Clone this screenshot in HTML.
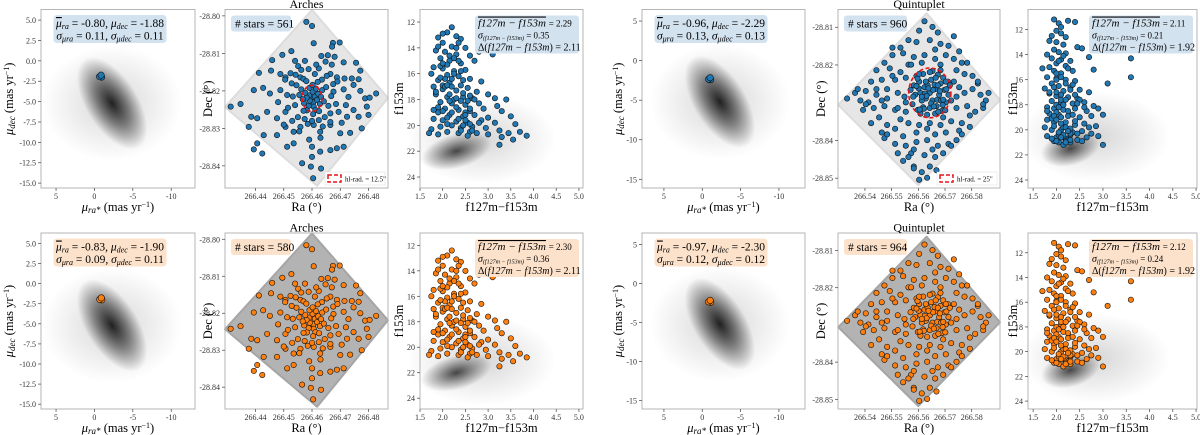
<!DOCTYPE html>
<html><head><meta charset="utf-8">
<style>
html,body{margin:0;padding:0;background:#fff;}
svg{display:block;font-family:"Liberation Serif",serif;}
</style></head>
<body>
<svg id="fig" width="1200" height="435" viewBox="0 0 1200 435" xmlns="http://www.w3.org/2000/svg">
<defs>
<radialGradient id="pmg"><stop offset="0" stop-color="#000" stop-opacity="0.85"/><stop offset="0.5" stop-color="#000" stop-opacity="0.45"/><stop offset="1" stop-color="#000" stop-opacity="0"/></radialGradient>
<radialGradient id="halo"><stop offset="0" stop-color="#000" stop-opacity="0.16"/><stop offset="1" stop-color="#000" stop-opacity="0"/></radialGradient>
<radialGradient id="cmdg"><stop offset="0" stop-color="#000" stop-opacity="0.7"/><stop offset="0.55" stop-color="#000" stop-opacity="0.3"/><stop offset="1" stop-color="#000" stop-opacity="0"/></radialGradient>
</defs>
</svg>
<script>
// ---------- data ----------
const rowStatsPM1 = [["-0.80","-1.88","0.11","0.11"],["-0.83","-1.90","0.09","0.11"]];
const rowStatsPM4 = [["-0.96","-2.29","0.13","0.13"],["-0.97","-2.30","0.12","0.12"]];
const pmMeanArches = [[-0.80,-1.88],[-0.83,-1.90]];
const pmMeanQuint = [[-0.96,-2.29],[-0.97,-2.30]];
const starCountArches = [561,580];
const starCountQuint = [960,964];
const cmdStatsArches = [["2.29","0.35","2.11"],["2.30","0.36","2.11"]];
const cmdStatsQuint = [["2.11","0.21","1.92"],["2.12","0.24","1.92"]];
const pmTicksX = [5,0,-5,-10];
const pmTicksY1 = [5,2.5,0,-2.5,-5,-7.5,-10,-12.5,-15];
const pmTicksY4 = [5,0,-5,-10,-15];
const archesRaTicks = [266.44,266.45,266.46,266.47,266.48];
const archesDecTicks = [-28.80,-28.81,-28.82,-28.83,-28.84];
const quintRaTicks = [266.54,266.55,266.56,266.57,266.58];
const quintDecTicks = [-28.81,-28.82,-28.84,-28.85];
const cmdTicksX = [1.5,2.0,2.5,3.0,3.5,4.0,4.5,5.0];
const cmdTicksY = [12,14,16,18,20,22,24];
const archesCenter = [266.460,-28.822];
const quintCenter = [266.5643,-28.8274];
const archesField = [[266.4600,-28.7984],[266.4869,-28.8219],[266.4618,-28.8453],[266.4292,-28.8243]];
const quintField = [[266.5631,-28.8063],[266.5906,-28.8293],[266.5600,-28.8518],[266.5300,-28.8306]];
// Arches sky offsets (milli-degrees)
const archesDRa = [-2.0,0,0.6,7.4,9.8,7.1,15.6,11.2,8.0,5.6,3.3,-7.3,-10.5,-14.1,-4.9,-3.8,-1.2,2.4,-18.8,-14.5,-11.2,-9.4,-7.6,-4.1,6.5,8.8,11.5,14.1,16.5,17.1,14.7,-20.6,-17.3,-14.9,-11.2,-8.8,7.6,11.2,12.9,17.1,18.8,20.4,22.7,-28.8,-25.3,-21.5,-22.4,-19.4,-15.9,-12.4,-9.4,6.5,9.4,12.4,14.7,16.5,19.4,20.0,17.6,13.5,10.0,6.5,2.9,0.6,-4.1,-6.5,-9.4,-12.4,-17.1,-19.4,-20.6,-17.6,-8.8,-6.5,0,2.9,6.5,8.8,11.2,-3.5,0,-0.4,3.2,0.4,
0,1,-1,0.5,-0.8,1.8,-1.9,2.2,-2.4,0.2,0.6,-1.2,2.8,-2.8,1.4,-0.9,3.2,-3.3,1.2,-1.8,3.6,-3.8,2.5,-3.0,4.2,-4.5,0.2,0.4,
5,-5.5,5.8,-6,3.5,-3,2.4,-2.6,6.8,-6.8,4.5,-5,7.5,-7.2,1,-1.5,5.2,-5.8,6.5,-7,8.5,-8.5,3.8,-4.5,1.5,-2.5,4.8,9,-9.5,10.5,-10,3,-1,-6,7,-12,12,-2,2,0];
const archesDDec = [20.4,19.3,14.7,14.8,14.9,13.8,9.5,9.6,11.1,11.5,11.3,12.6,11.6,10.2,8.6,7.6,7.8,8.0,6.8,7.4,6.5,5.6,6.7,5.6,6.5,5.6,5.3,5.3,5.1,7.4,3.6,2.2,2.8,1.3,2.2,0.9,1.8,2.4,0.4,2.0,0,0.2,1.3,-2.2,-1.5,-4.9,-7.6,-5.3,-3.6,-5.3,-3.6,-4.0,-3.6,-4.9,-3.1,-4.9,-2.2,-4.4,-8.0,-9.2,-9.3,-7.1,-8.9,-7.1,-7.6,-8.9,-7.6,-9.8,-9.8,-12.0,-13.6,-14.7,-12.9,-12.0,-12.9,-14.2,-13.8,-13.3,-12.9,-17.3,-15.6,-18.2,-18.7,-21.3,
0,0.5,0.8,-1,-0.6,-0.4,0.2,1.2,1.5,1.8,-2.2,-2.0,-1.5,-1.3,2.6,2.8,0.4,-0.2,-3.1,-3.2,2.2,2.4,-3.4,-3.3,-0.8,0.9,3.6,-4.2,
3,3.5,-2,-1.8,5,5.2,-5.8,-5.5,0.6,0.5,-5,-5,3.8,4,6.5,-6.8,6,6.3,-6.3,-6,-1.5,-2.5,-7.5,-8.8,9,10,9.8,4.5,5,-6.5,-7,-10.5,-11,10,9,-1,-1.8,4.6,4.4,-6];
// Quintuplet sky offsets (milli-degrees)
const quintDRa = [0,2,-2,1,-1.5,3.5,-3.5,4,-4,0.5,0,2.5,-2.5,5.5,-5.5,6,-6,3,-2.5,1,-1,4.5,-4.5,6.8,-6.5,7,-7.2,1.8,-0.8,2.8,-3,5,-5,3.8,-1.8,0.5,4.2,-4.2,2,-3.5,
-2,1,-4,3,-8,-5,0,4,7,-11,2,-14,-10,-6,-2,2,6,9,12,-17,-8,-20,-15,-11,10,13,16,-13,9,11,-18,-22,-9,-28,-24,-20,-16,-12,-9.5,10,13,16,19,22,-31,18,-26,-25,-21,-17,-13,-9,10,14,17,20,-19,-11,-22,-16,-13,-8,-4,0,4,8,12,15,-5,2,6,-10,-17,-13,-9,-5,-1,3,7,10,-7,-2,2,5,-10,-6,-3,0,-4,-1,2.5,
-7,-3,-9,5,8,-14,-16,-6,4,11,-1,1,-23,-18,6,-12,
1.2,-1.2,3,-3,5,-5,2.2,-2.2,6.2,-6.2,0,4.8,-4.6,1.5,-1.5,3.2,7.5,-0.5,5.8,-3.8,14,18,21,8,12,-14,-18,-24,-8,-4,4,-12,-20,9,15,-16,-27,-6,11,20];
const quintDDec = [0,1,1.5,-2,-1.5,-0.5,0,2.5,3,3.5,-4,-3.5,-3.8,0.8,-0.5,-2.5,2,4.8,5,5.8,-5.8,-4.8,-4.5,3,-3,-0.5,0.8,2.2,2,-1.8,-2,4,4.5,0.5,-0.2,-2.8,-2,1.2,-5.5,-5.5,
19,17.5,16.5,16,14,13.5,14,13,12.5,12,11.5,10,10.5,9.5,10,9,10,9,8,8,7.5,6,6.5,5.5,6,5,4.5,3.5,3,1.5,3.5,3,4,0,0.5,-0.5,1,0,-1,-1,0,1,-0.5,0,-1.5,2.5,-2,-4.5,-4,-3.5,-4.5,-5,-4,-3.5,-5,-4,-6.5,-7,-8,-8.5,-9.5,-8,-8.5,-8,-8.5,-7.5,-8,-9,-10.5,-11,-10.5,-11.5,-12,-13.5,-14,-13,-12.5,-14,-13.5,-12.5,-16,-16.5,-17,-16,-18,-19.5,-21,-19.5,-23,-22.5,-20.5,
7.5,8,-2.5,-6.5,-2,4.5,-1.5,-15,7.5,-10,-9.5,-15,-2.5,-10.5,3,-4,
0.8,-0.8,2,-1,-1.8,1.8,4,-4.2,1,-1,5.5,-3.2,3.8,-3.6,3,-5,2,1.2,-4.6,-4.4,8,3,-2,-14,-11,12,-2,-3,-17,5,6,-16,1,15,-6,-11,1,-20,11,-3];
// Arches CMD (colour, magnitude)
const archesCol = [2.2,2.1,2.0,2.3,1.9,2.4,2.0,2.2,2.5,1.85,2.05,2.3,2.6,2.8,3.1,2.9,1.95,2.15,2.4,2.7,1.8,2.0,2.25,2.5,2.1,2.35,1.75,2.6,2.85,1.9,2.15,2.4,1.8,2.0,2.3,2.55,2.75,3.0,1.85,2.1,2.45,2.65,3.15,3.4,1.95,2.2,2.5,2.8,3.2,2.05,2.35,2.6,2.9,3.3,1.9,2.15,2.45,2.7,3.0,3.5,1.8,2.0,2.3,2.55,2.85,3.15,3.6,1.75,1.95,2.2,2.4,2.65,2.95,3.25,3.45,3.7,3.85,1.7,1.9,2.1,2.35,2.6,3.0,3.3,3.55,3.25,2.1,2.3,2.0,2.25,2.5,2.1,2.75,2.45,
1.95,2.05,2.15,2.25,2.35,2.45,2.55,1.9,2.0,2.1,2.2,2.3,2.4,2.5,2.6,1.85,1.95,2.05,2.15,2.25,2.35,2.45,2.55,2.65,2.0,2.1,2.2,2.3,2.4,2.5,2.6,2.7,1.9,2.2,2.4,2.6,2.8,1.8,2.35,2.15];
const archesMag = [12.4,12.8,12.9,13.1,13.2,13.3,13.6,13.9,14.0,14.2,14.3,14.5,14.6,14.3,14.5,14.1,14.8,15.0,15.2,15.0,15.5,15.6,15.8,15.7,16.1,16.2,16.0,16.4,16.6,16.5,16.7,16.9,17.0,17.2,17.3,17.1,17.4,17.6,17.6,17.8,17.8,17.9,17.9,18.0,18.2,18.3,18.4,18.3,18.5,18.7,18.8,18.9,18.7,18.9,19.0,19.2,19.3,19.2,19.4,19.3,19.5,19.6,19.7,19.8,19.6,19.8,19.9,20.3,20.1,20.0,20.2,20.1,20.2,20.4,20.6,20.5,20.8,20.6,20.7,20.5,20.6,20.5,20.7,20.9,21.1,21.5,15.3,14.0,16.9,18.0,19.0,19.9,20.6,17.5,
15.4,16.4,17.6,16.0,15.0,16.5,18.1,18.6,18.9,19.4,19.0,18.6,20.4,19.6,17.7,17.4,16.3,17.0,14.6,14.8,19.5,20.0,20.8,20.4,15.2,16.9,17.0,17.9,18.1,19.2,19.9,18.0,13.9,16.4,15.8,18.7,19.8,18.8,13.6,18.1];
// Quintuplet CMD
const quintCol = [1.95,2.05,2.1,2.25,2.4,2.0,2.1,1.9,2.2,1.85,2.0,2.15,2.45,2.55,1.95,2.05,2.2,1.8,1.9,2.1,2.3,2.7,2.0,2.2,1.85,1.7,1.95,2.1,2.35,2.8,1.8,2.0,2.2,2.4,1.9,2.05,2.3,1.75,2.15,2.5,2.7,1.85,2.0,2.25,2.45,1.9,2.1,2.35,2.6,2.8,1.8,1.95,2.15,2.4,2.65,2.9,1.85,2.05,2.25,2.5,2.75,1.8,1.95,2.2,2.4,2.6,2.85,1.75,1.9,2.1,2.35,2.55,2.75,1.8,2.0,2.2,2.45,2.65,2.9,2.05,2.3,3.0,3.6,3.6,3.1,3.0,3.1,2.0,2.1,2.0,2.3,2.15,1.95,2.05,2.15,2.25,1.9,2.0,2.1,2.2,2.3,
2.0,2.1,2.2,2.05,2.15,2.25,1.95,2.35,2.0,2.1,2.2,2.3,2.4,2.05,2.15,2.25,1.9,2.0,2.1,2.2,2.3,2.45,2.55,2.0,2.1,2.2,2.3,2.4,2.5,1.85,1.95,2.05,2.15,2.25,2.35,2.45,2.6,2.7,1.8,1.95];
const quintMag = [11.2,11.5,11.8,11.3,11.4,12.1,12.3,12.5,12.6,12.9,13.0,13.2,13.4,13.5,13.6,13.8,13.9,14.0,14.3,14.4,14.5,14.2,14.7,14.9,15.0,15.1,15.3,15.5,15.3,15.2,15.8,15.9,16.0,16.1,16.3,16.5,16.6,16.7,16.9,16.8,17.0,17.1,17.3,17.4,17.5,17.7,17.8,17.9,17.8,18.1,18.2,18.3,18.4,18.3,18.5,18.3,18.7,18.8,18.9,19.0,18.9,19.2,19.4,19.4,19.6,19.5,19.7,19.8,20.0,20.0,20.2,20.1,20.3,20.5,20.6,20.7,20.8,20.6,20.5,21.0,21.0,21.2,14.3,15.8,16.3,18.8,12.0,18.0,19.0,16.0,20.4,21.2,20.9,20.4,19.8,20.8,19.1,18.6,17.6,20.9,20.3,
17.0,17.2,17.6,18.2,18.0,18.5,18.9,18.8,19.2,19.5,19.8,19.9,19.3,20.2,20.4,20.1,20.7,20.9,20.6,21.0,20.8,20.3,20.9,15.5,15.8,16.3,16.8,17.2,17.6,17.0,16.6,14.5,14.1,15.1,16.4,17.9,18.2,19.8,18.5,19.7];

// ---------- helpers ----------
const NS = "http://www.w3.org/2000/svg";
const svg = document.getElementById('fig');
function mk(tag, attrs, parent){
  const e = document.createElementNS(NS, tag);
  for (const k in attrs) e.setAttribute(k, attrs[k]);
  (parent||svg).appendChild(e);
  return e;
}
function lin(d0,d1,r0,r1){ return v => r0 + (v-d0)/(d1-d0)*(r1-r0); }
const rowTop = [9.5,233], rowBot = [188,409];
const colors = ['#1f77b4','#ff7f0e'];
const boxFill = ['#d3e2ef','#fde2cb'];

function frame(g, x0, x1, y0, y1, name){
  const r = mk('rect',{x:x0,y:y0,width:x1-x0,height:y1-y0,fill:'none',stroke:'#b5b5b5','stroke-width':1},g);
  
  
}
function xticks(g, ticks, sx, y1, fmt, name){
  ticks.forEach(t=>{
    const x = sx(t);
    const l = mk('line',{x1:x,x2:x,y1:y1,y2:y1+3,stroke:'#444','stroke-width':0.7},g);
    
    
    const tx = mk('text',{x:x,y:y1+11,'font-size':8,'text-anchor':'middle',fill:'#333'},g);
    tx.textContent = fmt(t);
    
    
  });
}
function yticks(g, ticks, sy, x0, fmt, name){
  ticks.forEach(t=>{
    const y = sy(t);
    const l = mk('line',{x1:x0-3,x2:x0,y1:y,y2:y,stroke:'#444','stroke-width':0.7},g);
    
    
    const tx = mk('text',{x:x0-5,y:y+3,'font-size':8,'text-anchor':'end',fill:'#333'},g);
    tx.textContent = fmt(t);
    
    
  });
}
const mfmt = v => (v<0?'-':'') + Math.abs(v);
function dot(g, x, y, col, r, name){
  const c = mk('circle',{cx:x,cy:y,r:r||2.7,fill:col,stroke:'#111','stroke-width':0.6},g);
  
  
}
function textEl(g, attrs, html, name){
  const t = mk('text', attrs, g);
  t.innerHTML = html;
  
  
  return t;
}

// ---------- panels ----------
function pmPanel(r, x0, x1, xdom, ydom, yt, yfmt, stats, mean, ylabX, nm){
  const y0=rowTop[r], y1=rowBot[r];
  const g = mk('g',{});
  
  
  const sx = lin(xdom[0],xdom[1],x0,x1), sy = lin(ydom[1],ydom[0],y0,y1);
  const cx = sx(-2.3), cy = sy(-5.2);
  const h = mk('ellipse',{cx:cx,cy:cy,rx:70,ry:58,fill:'url(#halo)'},g);
  
  
  const e = mk('ellipse',{cx:cx,cy:cy,rx:52,ry:26,fill:'url(#pmg)',transform:`rotate(58 ${cx} ${cy})`},g);
  
  
  frame(g,x0,x1,y0,y1,'axes-frame');
  xticks(g,pmTicksX,sx,y1,mfmt,'x-axis');
  yticks(g,yt,sy,x0,yfmt,'y-axis');
  const mx = sx(mean[0]), my = sy(mean[1]);
  [[0,0],[1,1],[-1,0.5],[0.5,-1]].forEach(o=>dot(g,mx+o[0],my+o[1],colors[r],3.2,'cluster-member'));
  const bx = x0+13, bw = 112;
  const b = mk('rect',{x:bx,y:y0+6,width:bw,height:27,rx:3,fill:boxFill[r],stroke:boxFill[r]},g);
  
  
  textEl(g,{x:bx+bw/2,y:y0+17.5,'font-size':11.5,'text-anchor':'middle'},
    `<tspan font-style="italic" text-decoration="overline">μ</tspan><tspan font-style="italic" font-size="8" dy="2">ra</tspan><tspan dy="-2"> = ${stats[0]}, </tspan><tspan font-style="italic">μ</tspan><tspan font-style="italic" font-size="8" dy="2">dec</tspan><tspan dy="-2"> = ${stats[1]}</tspan>`,'stats-mean');
  textEl(g,{x:bx+bw/2,y:y0+30,'font-size':11.5,'text-anchor':'middle'},
    `<tspan font-style="italic">σ</tspan><tspan font-style="italic" font-size="8" dy="2">μra</tspan><tspan dy="-2"> = ${stats[2]}, </tspan><tspan font-style="italic">σ</tspan><tspan font-style="italic" font-size="8" dy="2">μdec</tspan><tspan dy="-2"> = ${stats[3]}</tspan>`,'stats-sigma');
  const yc=(y0+y1)/2;
  textEl(g,{x:ylabX,y:yc,'font-size':12.5,'text-anchor':'middle',transform:`rotate(-90 ${ylabX} ${yc})`},
    `<tspan font-style="italic">μ</tspan><tspan font-style="italic" font-size="9" dy="2">dec</tspan><tspan dy="-2"> (mas yr</tspan><tspan font-size="8" dy="-4">−1</tspan><tspan dy="4">)</tspan>`,'y-axis-title');
  textEl(g,{x:(x0+x1)/2,y:y1+23,'font-size':12.5,'text-anchor':'middle'},
    `<tspan font-style="italic">μ</tspan><tspan font-style="italic" font-size="9" dy="2">ra*</tspan><tspan dy="-2"> (mas yr</tspan><tspan font-size="8" dy="-4">−1</tspan><tspan dy="4">)</tspan>`,'x-axis-title');
}

function skyPanel(r, x0, x1, xdom, ydom, rat, dect, field, center, dra, ddec, count, title, ylabX, ell, hlText, nm){
  const y0=rowTop[r], y1=rowBot[r];
  const g = mk('g',{});
  
  
  const sx = lin(xdom[0],xdom[1],x0,x1), sy = lin(ydom[1],ydom[0],y0,y1);
  const pts = field.map(p=>sx(p[0])+','+sy(p[1])).join(' ');
  const poly = mk('polygon',{points:pts,fill:r?'#b3b3b3':'#e6e6e6',stroke:r?'#a5a5a5':'#dcdcdc','stroke-width':2,'stroke-linejoin':'round'},g);
  
  
  frame(g,x0,x1,y0,y1,'axes-frame');
  xticks(g,rat,sx,y1,v=>v.toFixed(2),'x-axis');
  yticks(g,dect,sy,x0,v=>v.toFixed(2),'y-axis');
  for(let i=0;i<dra.length;i++){
    dot(g, sx(center[0]+dra[i]/1000), sy(center[1]+ddec[i]/1000), colors[r], 2.7, 'cluster-star');
  }
  if(r===0){
    const ex=sx(center[0]), ey=sy(center[1]);
    const e = mk('ellipse',{cx:ex,cy:ey,rx:sx(center[0]+ell[0]/1000)-ex,ry:ey-sy(center[1]+ell[1]/1000),fill:'none',stroke:'#e8141a','stroke-width':1.6,'stroke-dasharray':'4 2.5'},g);
    
    
    const lb = mk('rect',{x:x1-63,y:y1-16,width:60,height:13,fill:'#fff',stroke:'#ddd','stroke-width':0.5},g);
    
    
    const lm = mk('rect',{x:x1-60,y:y1-13,width:13,height:7,fill:'none',stroke:'#e8141a','stroke-width':1.5,'stroke-dasharray':'4 2'},g);
    
    
    textEl(g,{x:x1-43,y:y1-6.5,'font-size':7},hlText,'legend-entry');
  }
  const b = mk('rect',{x:x0+6,y:y0+6,width:count>=900?63:60,height:16,rx:3,fill:boxFill[r]},g);
  
  
  textEl(g,{x:x0+10,y:y0+18,'font-size':11.5},`# stars = ${count}`,'star-count');
  textEl(g,{x:(x0+x1)/2,y:y0-1.5,'font-size':12,'text-anchor':'middle'},title,'panel-title');
  const yc=(y0+y1)/2;
  textEl(g,{x:ylabX,y:yc,'font-size':12.5,'text-anchor':'middle',transform:`rotate(-90 ${ylabX} ${yc})`},'Dec (°)','y-axis-title');
  textEl(g,{x:(x0+x1)/2,y:y1+23,'font-size':12.5,'text-anchor':'middle'},'Ra (°)','x-axis-title');
}

function cmdPanel(r, x0, x1, xdom, ydom, col, mag, stats, blob, ylabX, nm){
  const y0=rowTop[r], y1=rowBot[r];
  const g = mk('g',{});
  
  
  const sx = lin(xdom[0],xdom[1],x0,x1), sy = lin(ydom[0],ydom[1],y0,y1);
  const bx = sx(blob[0]), by = sy(blob[1]);
  const h = mk('ellipse',{cx:bx+25,cy:by-12,rx:75,ry:45,fill:'url(#halo)'},g);
  
  
  const e = mk('ellipse',{cx:bx,cy:by,rx:blob[2],ry:17,fill:'url(#cmdg)',transform:`rotate(-15 ${bx} ${by})`},g);
  
  
  frame(g,x0,x1,y0,y1,'axes-frame');
  xticks(g,cmdTicksX,sx,y1,v=>v.toFixed(1),'x-axis');
  yticks(g,cmdTicksY,sy,x0,v=>String(v),'y-axis');
  for(let i=0;i<col.length;i++) dot(g, sx(col[i]), sy(mag[i]), colors[r], 2.7, 'cluster-star');
  const bxx = x1-108;
  const b = mk('rect',{x:bxx,y:y0+6,width:104,height:38,rx:3,fill:boxFill[r]},g);
  
  
  textEl(g,{x:bxx+3,y:y0+17,'font-size':11},`<tspan font-style="italic" text-decoration="overline">f127m − f153m</tspan> <tspan font-size="9">= ${stats[0]}</tspan>`,'stats-mean');
  textEl(g,{x:bxx+3,y:y0+29,'font-size':9},`<tspan font-style="italic" font-size="10">σ</tspan><tspan font-style="italic" font-size="6" dy="1.5">(f127m − f153m)</tspan><tspan dy="-1.5"> = ${stats[1]}</tspan>`,'stats-sigma');
  textEl(g,{x:bxx+3,y:y0+41,'font-size':10},`Δ(<tspan font-style="italic">f127m − f153m</tspan>) = ${stats[2]}`,'stats-delta');
  const yc=(y0+y1)/2;
  textEl(g,{x:ylabX,y:yc,'font-size':12.5,'text-anchor':'middle',transform:`rotate(-90 ${ylabX} ${yc})`},'f153m','y-axis-title');
  textEl(g,{x:(x0+x1)/2,y:y1+23,'font-size':12.5,'text-anchor':'middle'},'f127m−f153m','x-axis-title');
}

for(let r=0;r<2;r++){
  pmPanel(r,41,195,[6.96,-13.1],[-15.6,6.3],pmTicksY1,v=>v.toFixed(1),rowStatsPM1[r],pmMeanArches[r],13,'arches-proper-motion-'+r);
  skyPanel(r,225,388,[266.4292,266.4869],[-28.8459,-28.7983],archesRaTicks,archesDecTicks,archesField,archesCenter,archesDRa,archesDDec,starCountArches[r],'Arches',212,[3.5,3.5],'hl-rad. = 12.5"','arches-sky-'+r);
  cmdPanel(r,420,583,[1.5,5.09],[11.03,24.85],archesCol,archesMag,cmdStatsArches[r],[2.3,22.0,36],403,'arches-cmd-'+r);
  pmPanel(r,642,805,[7.86,-13.4],[-16.1,6.46],pmTicksY4,v=>String(v),rowStatsPM4[r],pmMeanQuint[r],622,'quintuplet-proper-motion-'+r);
  skyPanel(r,838,1000,[266.5299,266.5906],[-28.8526,-28.8053],quintRaTicks,quintDecTicks,quintField,quintCenter,quintDRa,quintDDec,starCountQuint[r],'Quintuplet',825,[7.9,6.6],'hl-rad. = 25"','quintuplet-sky-'+r);
  cmdPanel(r,1028,1197,[1.39,5.02],[10.4,24.64],quintCol,quintMag,cmdStatsQuint[r],[2.3,21.5,30],1017,'quintuplet-cmd-'+r);
}
</script>
</body></html>
